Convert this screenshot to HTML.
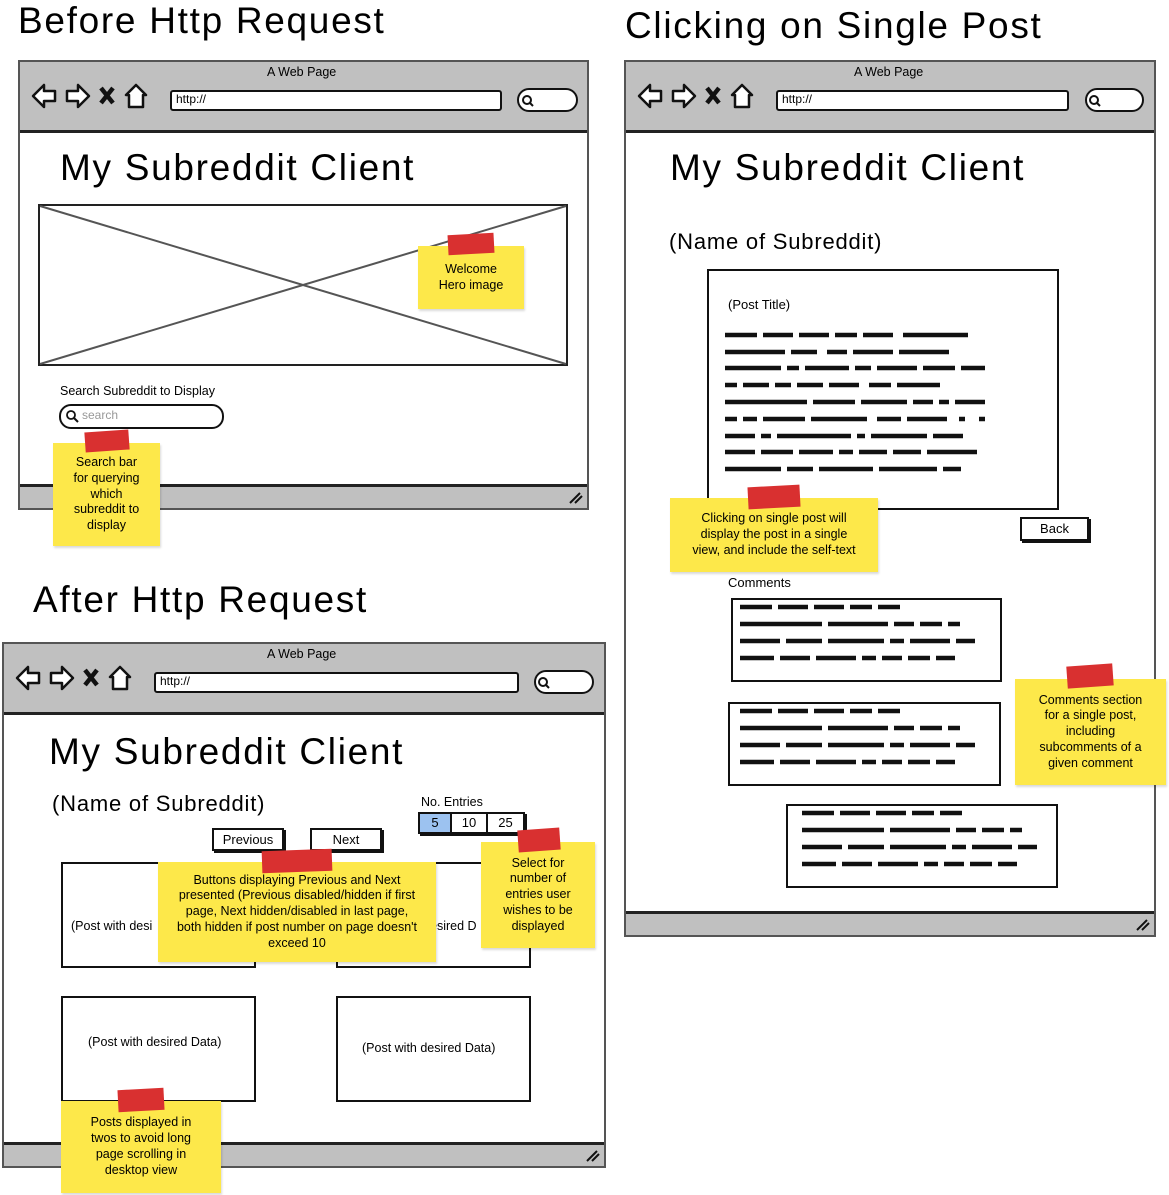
<!DOCTYPE html>
<html><head><meta charset="utf-8">
<style>
*{margin:0;padding:0;box-sizing:border-box}
body{width:1169px;height:1195px;background:#fff;position:relative;overflow:hidden;font-family:"Liberation Sans",sans-serif;color:#000}
.a{position:absolute}
.t{position:absolute;white-space:nowrap}
.h{letter-spacing:1.7px}
.br{position:absolute;border:2px solid #555;background:#fff}
.chrome{position:absolute;left:0;right:0;top:0;height:71px;background:#c0c0c0;border-bottom:3px solid #222}
.foot{position:absolute;left:0;right:0;bottom:0;height:24px;background:#c0c0c0;border-top:3px solid #222}
.box{position:absolute;border:2px solid #111;background:#fff}
.note{position:absolute;background:#fde84a;font-size:12.5px;line-height:15.8px;text-align:center;display:flex;align-items:center;justify-content:center;box-shadow:1px 2px 2px rgba(0,0,0,.15)}
.tape{position:absolute;background:#d93030}
.btn{position:absolute;border:2px solid #111;box-shadow:2px 2px 0 #111;background:#fff;font-size:13px;text-align:center;line-height:19px}
</style></head><body>

<div class="t h" style="left:18px;top:0;font-size:37px">Before Http Request</div>
<div class="t h" style="left:625px;top:5px;font-size:37px">Clicking on Single Post</div>
<div class="t h" style="left:33px;top:579px;font-size:37px">After Http Request</div>

<div class="br" style="left:18px;top:60px;width:571px;height:450px"><div class="chrome"></div><div class="foot"></div></div>
<div class="br" style="left:624px;top:60px;width:532px;height:877px"><div class="chrome"></div><div class="foot"></div></div>
<div class="br" style="left:2px;top:642px;width:604px;height:526px"><div class="chrome"></div><div class="foot"></div></div>

<svg class="a" style="left:0;top:0" width="1169" height="1195">
 <defs>
  <g id="nav">
   <path d="M0 12 L11 1 L11 7 L22 7 L22 17 L11 17 L11 23 Z" fill="#fff" stroke="#111" stroke-width="2.5" stroke-linejoin="round"/>
   <path d="M56 12 L45 1 L45 7 L34 7 L34 17 L45 17 L45 23 Z" fill="#fff" stroke="#111" stroke-width="2.5" stroke-linejoin="round"/>
   <path d="M68 4 L80 19 M80 4 L68 19" stroke="#111" stroke-width="4.5"/>
   <path d="M103 1 L93 11 L96 11 L96 23 L110 23 L110 11 L113 11 Z" fill="#fff" stroke="#111" stroke-width="2.5" stroke-linejoin="round"/>
  </g>
 </defs>
 <use href="#nav" x="33" y="84"/>
 <use href="#nav" x="639" y="84"/>
 <use href="#nav" x="17" y="666"/>
 <rect x="171" y="91" width="330" height="19" fill="#fff" stroke="#111" stroke-width="2" rx="2"/>
 <rect x="777" y="91" width="291" height="19" fill="#fff" stroke="#111" stroke-width="2" rx="2"/>
 <rect x="155" y="673" width="363" height="19" fill="#fff" stroke="#111" stroke-width="2" rx="2"/>
 <rect x="518" y="89" width="59" height="22" rx="11" fill="#fff" stroke="#111" stroke-width="2"/>
 <rect x="1086" y="89" width="57" height="22" rx="11" fill="#fff" stroke="#111" stroke-width="2"/>
 <rect x="535" y="671" width="58" height="22" rx="11" fill="#fff" stroke="#111" stroke-width="2"/>
 <circle cx="527" cy="100" r="4" fill="none" stroke="#111" stroke-width="2"/><path d="M530 103 L533 106" stroke="#111" stroke-width="2"/>
 <circle cx="1094" cy="100" r="4" fill="none" stroke="#111" stroke-width="2"/><path d="M1097 103 L1100 106" stroke="#111" stroke-width="2"/>
 <circle cx="543" cy="682" r="4" fill="none" stroke="#111" stroke-width="2"/><path d="M546 685 L549 688" stroke="#111" stroke-width="2"/>
 <path d="M570 503 L580 493 M575 503 L582 496" stroke="#111" stroke-width="2"/>
 <path d="M1137 930 L1147 920 M1142 930 L1149 923" stroke="#111" stroke-width="2"/>
 <path d="M587 1161 L597 1151 M592 1161 L599 1154" stroke="#111" stroke-width="2"/>
 <rect x="39" y="205" width="528" height="160" fill="#fff" stroke="#222" stroke-width="2"/>
 <path d="M40 206 L566 364 M566 206 L40 364" stroke="#555" stroke-width="2"/>
 <rect x="60" y="405" width="163" height="23" rx="11" fill="#fff" stroke="#111" stroke-width="2"/>
 <circle cx="71" cy="415" r="4" fill="none" stroke="#111" stroke-width="1.8"/>
 <path d="M74 418 L78 422" stroke="#111" stroke-width="2"/>
</svg>

<svg class="a" style="left:0;top:0;z-index:1" width="1169" height="1195">
 <g stroke="#111" stroke-width="4.5" stroke-linecap="butt" fill="none">
  <line x1="725" y1="335" x2="968" y2="335" stroke-dasharray="32 6 30 6 30 6 22 6 30 10 74 100"/>
  <line x1="725" y1="352" x2="958" y2="352" stroke-dasharray="60 6 26 10 20 6 40 6 50 100"/>
  <line x1="725" y1="368" x2="985" y2="368" stroke-dasharray="56 6 12 6 44 6 16 6 40 6 32 6 40"/>
  <line x1="725" y1="385" x2="940" y2="385" stroke-dasharray="12 6 26 6 16 6 26 6 30 10 22 6 48"/>
  <line x1="725" y1="402" x2="985" y2="402" stroke-dasharray="82 6 42 6 46 6 20 6 10 6 30"/>
  <line x1="725" y1="419" x2="985" y2="419" stroke-dasharray="12 6 14 6 42 6 56 10 24 6 40"/>
  <line x1="725" y1="436" x2="985" y2="436" stroke-dasharray="30 6 10 6 74 6 8 6 56 6 30"/>
  <line x1="725" y1="452" x2="985" y2="452" stroke-dasharray="30 6 32 6 34 6 14 6 28 6 28 6 50"/>
  <line x1="725" y1="469" x2="965" y2="469" stroke-dasharray="56 6 26 6 54 6 58 6 18"/>
 </g>
 <g id="cb" stroke="#111" stroke-width="4.5" fill="none">
  <line x1="740" y1="607" x2="900" y2="607" stroke-dasharray="32 6 30 6 30 6 22 6 28"/>
  <line x1="740" y1="624" x2="960" y2="624" stroke-dasharray="82 6 60 6 20 6 22 6 20"/>
  <line x1="740" y1="641" x2="975" y2="641" stroke-dasharray="40 6 36 6 56 6 14 6 40 6 20"/>
  <line x1="740" y1="658" x2="955" y2="658" stroke-dasharray="34 6 30 6 40 6 14 6 20 6 22 6 26"/>
 </g>
 <use href="#cb" x="0" y="104"/>
 <use href="#cb" x="62" y="206"/>
</svg>

<div class="t" style="left:267px;top:65px;font-size:12.5px">A Web Page</div>
<div class="t" style="left:854px;top:65px;font-size:12.5px">A Web Page</div>
<div class="t" style="left:267px;top:647px;font-size:12.5px">A Web Page</div>
<div class="t" style="left:176px;top:92px;font-size:12px">http://</div>
<div class="t" style="left:782px;top:92px;font-size:12px">http://</div>
<div class="t" style="left:160px;top:674px;font-size:12px">http://</div>

<div class="t h" style="left:60px;top:147px;font-size:37px">My Subreddit Client</div>
<div class="t h" style="left:670px;top:147px;font-size:37px">My Subreddit Client</div>
<div class="t h" style="left:49px;top:731px;font-size:37px">My Subreddit Client</div>

<div class="t" style="left:60px;top:384px;font-size:12.5px">Search Subreddit to Display</div>
<div class="t" style="left:82px;top:408px;font-size:12px;color:#999">search</div>

<div class="note" style="left:418px;top:246px;width:106px;height:63px">Welcome<br>Hero image</div>
<div class="tape" style="left:448px;top:234px;width:46px;height:20px;transform:rotate(-3deg)"></div>
<div class="note" style="left:53px;top:443px;width:107px;height:103px">Search bar<br>for querying<br>which<br>subreddit to<br>display</div>
<div class="tape" style="left:85px;top:431px;width:44px;height:20px;transform:rotate(-4deg)"></div>

<div class="t" style="left:669px;top:229px;font-size:22px;letter-spacing:.8px">(Name of Subreddit)</div>
<div class="box" style="left:707px;top:269px;width:352px;height:241px;z-index:0"></div>
<div class="t" style="left:728px;top:297px;font-size:13px">(Post Title)</div>
<div class="btn" style="left:1020px;top:517px;width:69px;height:24px">Back</div>
<div class="t" style="left:728px;top:575px;font-size:13px">Comments</div>
<div class="box" style="left:731px;top:598px;width:271px;height:84px"></div>
<div class="box" style="left:728px;top:702px;width:273px;height:84px"></div>
<div class="box" style="left:786px;top:804px;width:272px;height:84px"></div>
<div class="note" style="left:670px;top:498px;width:208px;height:74px;z-index:2">Clicking on single post will<br>display the post in a single<br>view, and include the self-text</div>
<div class="tape" style="left:748px;top:486px;width:52px;height:22px;transform:rotate(-3deg);z-index:2"></div>
<div class="note" style="left:1015px;top:679px;width:151px;height:106px;z-index:2">Comments section<br>for a single post,<br>including<br>subcomments of a<br>given comment</div>
<div class="tape" style="left:1067px;top:665px;width:46px;height:22px;transform:rotate(-4deg);z-index:2"></div>

<div class="t" style="left:52px;top:791px;font-size:22px;letter-spacing:.8px">(Name of Subreddit)</div>
<div class="t" style="left:421px;top:795px;font-size:12.5px">No. Entries</div>
<div class="a" style="left:418px;top:812px;width:107px;height:22px;border:2px solid #111;box-shadow:2px 2px 0 #111;display:flex;font-size:13px;line-height:18px;text-align:center">
 <div style="width:32px;background:#9cc2f0;border-right:2px solid #111">5</div>
 <div style="width:36px;border-right:2px solid #111;background:#fff">10</div>
 <div style="flex:1;background:#fff">25</div>
</div>
<div class="btn" style="left:212px;top:828px;width:72px;height:23px">Previous</div>
<div class="btn" style="left:310px;top:828px;width:72px;height:23px">Next</div>
<div class="box" style="left:61px;top:862px;width:195px;height:106px"></div>
<div class="t" style="left:71px;top:919px;font-size:12.5px">(Post with desi</div>
<div class="box" style="left:336px;top:862px;width:195px;height:106px"></div>
<div class="t" style="left:430px;top:919px;font-size:12.5px">esired D</div>
<div class="box" style="left:61px;top:996px;width:195px;height:106px"></div>
<div class="t" style="left:88px;top:1035px;font-size:12.5px">(Post with desired Data)</div>
<div class="box" style="left:336px;top:996px;width:195px;height:106px"></div>
<div class="t" style="left:362px;top:1041px;font-size:12.5px">(Post with desired Data)</div>
<div class="note" style="left:158px;top:862px;width:278px;height:100px">Buttons displaying Previous and Next<br>presented (Previous disabled/hidden if first<br>page, Next hidden/disabled in last page,<br>both hidden if post number on page doesn't<br>exceed 10</div>
<div class="tape" style="left:262px;top:850px;width:70px;height:22px;transform:rotate(-2deg)"></div>
<div class="note" style="left:481px;top:842px;width:114px;height:106px">Select for<br>number of<br>entries user<br>wishes to be<br>displayed</div>
<div class="tape" style="left:518px;top:829px;width:42px;height:22px;transform:rotate(-4deg)"></div>
<div class="note" style="left:61px;top:1101px;width:160px;height:92px">Posts displayed in<br>twos to avoid long<br>page scrolling in<br>desktop view</div>
<div class="tape" style="left:118px;top:1089px;width:46px;height:22px;transform:rotate(-3deg)"></div>
</body></html>
